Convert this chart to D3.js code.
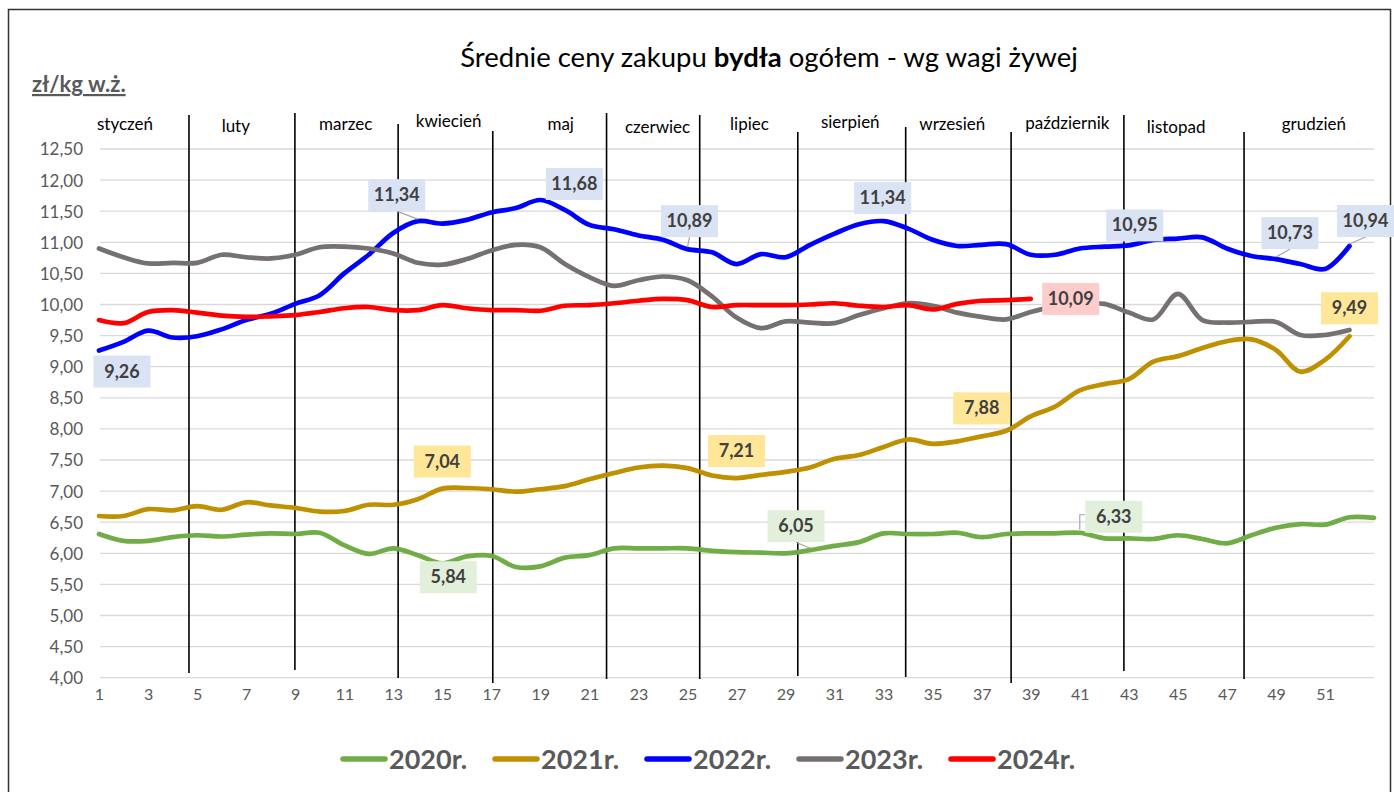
<!DOCTYPE html>
<html>
<head>
<meta charset="utf-8">
<script src="https://cdnjs.cloudflare.com/ajax/libs/d3/7.8.5/d3.min.js"></script>
<style>
  body { margin: 0; background: #fff; }
  text { font-family: Lato, "Open Sans", sans-serif; }
</style>
</head>
<body>
<div id="chart"></div>
<script>
// weekly prices, zl/kg live weight
var ceny2020 = [6.31, 6.20, 6.20, 6.26, 6.29, 6.27, 6.30, 6.32, 6.31, 6.33, 6.13, 5.99, 6.08, 5.97, 5.84, 5.95, 5.96, 5.78, 5.79, 5.93,
	5.97, 6.08, 6.08, 6.08, 6.08, 6.04, 6.02, 6.01, 6.00, 6.05, 6.12, 6.18, 6.32, 6.31, 6.31, 6.33, 6.26, 6.31, 6.32, 6.32,
	6.33, 6.24, 6.24, 6.23, 6.29, 6.23, 6.16, 6.29, 6.41, 6.47, 6.46, 6.58, 6.57];
var ceny2021 = [6.60, 6.60, 6.71, 6.69, 6.76, 6.70, 6.82, 6.77, 6.73, 6.67, 6.68, 6.78, 6.78, 6.87, 7.04, 7.05, 7.03, 6.99, 7.03, 7.08,
	7.19, 7.29, 7.38, 7.41, 7.37, 7.25, 7.21, 7.26, 7.31, 7.38, 7.52, 7.58, 7.71, 7.83, 7.76, 7.80, 7.88, 7.97, 8.20, 8.36,
	8.62, 8.72, 8.80, 9.08, 9.17, 9.30, 9.41, 9.44, 9.27, 8.92, 9.11, 9.49];
var ceny2022 = [9.26, 9.40, 9.58, 9.47, 9.49, 9.60, 9.75, 9.85, 10.01, 10.15, 10.50, 10.80, 11.15, 11.34, 11.30, 11.36, 11.48, 11.55, 11.68, 11.52,
	11.28, 11.21, 11.11, 11.04, 10.89, 10.84, 10.65, 10.81, 10.76, 10.96, 11.14, 11.29, 11.34, 11.22, 11.04, 10.94, 10.96, 10.97, 10.80, 10.80,
	10.90, 10.93, 10.95, 11.04, 11.06, 11.08, 10.90, 10.78, 10.73, 10.65, 10.57, 10.94];
var ceny2023 = [10.90, 10.76, 10.66, 10.67, 10.67, 10.80, 10.76, 10.74, 10.80, 10.92, 10.93, 10.90, 10.82, 10.67, 10.64, 10.73, 10.87, 10.96, 10.92, 10.65,
	10.44, 10.30, 10.39, 10.45, 10.39, 10.13, 9.79, 9.62, 9.73, 9.71, 9.70, 9.83, 9.94, 10.02, 9.98, 9.87, 9.80, 9.76, 9.88, 9.97,
	10.01, 10.01, 9.87, 9.76, 10.17, 9.75, 9.71, 9.72, 9.72, 9.51, 9.51, 9.59];
var ceny2024 = [9.75, 9.70, 9.88, 9.91, 9.87, 9.82, 9.80, 9.81, 9.83, 9.88, 9.94, 9.96, 9.91, 9.91, 9.99, 9.94, 9.91, 9.91, 9.90, 9.98,
	9.99, 10.02, 10.06, 10.09, 10.07, 9.96, 9.99, 9.99, 9.99, 10.00, 10.02, 9.98, 9.96, 9.99, 9.92, 10.01, 10.06, 10.07, 10.09];

var seriesNames = ["2020r.", "2021r.", "2022r.", "2023r.", "2024r."];
var seriesColors = ["#70ad47", "#bf9000", "#0000ff", "#767171", "#ff0000"];
var allSeries = [ceny2020, ceny2021, ceny2022, ceny2023, ceny2024];

var weekTicks = d3.range(1, 52, 2);           // 1,3,...,51
var yTicks = d3.range(4, 12.51, 0.5);

var months = ["styczeń", "luty", "marzec", "kwiecień", "maj", "czerwiec", "lipiec", "sierpień", "wrzesień", "październik", "listopad", "grudzień"];
var monthCenters = [2.06, 6.58, 11.06, 15.26, 19.83, 23.78, 27.53, 31.64, 35.8, 40.49, 44.93, 50.55];   // in weeks
var monthBreaks = [4.67, 8.99, 13.2, 17.06, 21.7, 25.5, 29.5, 33.9, 38.2, 42.8, 47.7];                // in weeks

// callouts: series index, week
var callouts = [[2, 1], [2, 14], [2, 19], [2, 25], [2, 33], [2, 43], [2, 49], [2, 52],
	[4, 39], [1, 15], [1, 27], [1, 37], [1, 52], [0, 15], [0, 30], [0, 41]];

// layout bits (hand-placed in the original, kept apart from the data)
var monthLabelY = [130, 132, 130, 127, 130, 133, 130, 128, 130, 129, 133, 130];
var breakTop = [115, 113, 124, 131, 113, 115, 132, 127, 132, 115, 132];
var breakBottom = [673, 670, 678, 683, 679, 679, 676, 677, 683, 671, 679];
var calloutOffset = [[23, 21, 0], [-21, -26, 1], [34, -16, 0], [2, -28, 1], [-1, -23, 0], [6, -20, 0], [14, -26, 1], [16, -25, 1],
	[40, 0, 0], [0, -27, 0], [0, -27, 0], [0, -28, 0], [0, -28, 0], [6, 14, 0], [-14, -24, 1], [34, -16, 2]];
var boxColors = ["#e2efda", "#ffe699", "#dae3f3", "#dae3f3", "#ffcccc"];

var width = 1394, height = 792;
var comma = function(v) { return d3.format(".2f")(v).replace(".", ","); };

var svg = d3.select("#chart").append("svg")
	.attr("width", width)
	.attr("height", height);

svg.append("rect")
	.attr("x", 8.5).attr("y", 9.5)
	.attr("width", 1382).attr("height", 800)
	.style("fill", "#fff")
	.style("stroke", "#333")
	.style("stroke-width", 1.5);

var x = d3.scaleLinear().domain([1, 53]).range([99, 1374]);
var y = d3.scaleLinear().domain([4, 12.5]).range([677.7, 149]);

// gridlines
svg.selectAll(".grid")
	.data(yTicks)
	.enter()
	.append("line")
		.attr("class", "grid")
		.attr("x1", 100).attr("x2", 1374)
		.attr("y1", function(d) { return y(d); })
		.attr("y2", function(d) { return y(d); })
		.style("stroke", "#d9d9d9")
		.style("stroke-width", 1.3);

// y axis
var yAxis = d3.axisLeft(y).tickValues(yTicks).tickSize(0).tickPadding(0).tickFormat(comma);
svg.append("g")
	.attr("transform", "translate(83,0)")
	.call(yAxis)
	.call(function(g) { g.select(".domain").remove(); })
	.selectAll("text")
		.attr("dy", "0.35em")
		.style("font-family", "Lato, sans-serif")
		.style("font-size", "17px")
		.style("fill", "#595959");

// x axis
var xAxis = d3.axisBottom(x).tickValues(weekTicks).tickSize(0).tickPadding(0).tickFormat(d3.format("d"));
svg.append("g")
	.attr("transform", "translate(0,689)")
	.call(xAxis)
	.call(function(g) { g.select(".domain").remove(); })
	.selectAll("text")
		.attr("dy", "0.71em")
		.style("font-family", "Lato, sans-serif")
		.style("font-size", "16px")
		.style("fill", "#595959");

// month separators
svg.selectAll(".monthBreak")
	.data(monthBreaks)
	.enter()
	.append("line")
		.attr("class", "monthBreak")
		.attr("x1", function(d) { return x(d); })
		.attr("x2", function(d) { return x(d); })
		.attr("y1", function(d, i) { return breakTop[i]; })
		.attr("y2", function(d, i) { return breakBottom[i]; })
		.style("stroke", "#000")
		.style("stroke-width", 1.6);

svg.selectAll(".monthLabel")
	.data(months)
	.enter()
	.append("text")
		.attr("class", "monthLabel")
		.attr("x", function(d, i) { return x(monthCenters[i]); })
		.attr("y", function(d, i) { return monthLabelY[i]; })
		.style("text-anchor", "middle")
		.style("font-size", "17px")
		.style("fill", "#000")
		.text(function(d) { return d; });

// lines
var line = d3.line()
	.x(function(d, i) { return x(i + 1); })
	.y(function(d) { return y(d); })
	.curve(d3.curveCatmullRom.alpha(0.5));

svg.selectAll(".seria")
	.data(allSeries)
	.enter()
	.append("path")
		.attr("class", "seria")
		.attr("d", function(d) { return line(d); })
		.style("fill", "none")
		.style("stroke", function(d, i) { return seriesColors[i]; })
		.style("stroke-width", 4.7)
		.style("stroke-linejoin", "round")
		.style("stroke-linecap", "round");

// callouts
var bw = 57, bh = 32;
callouts.forEach(function(c, i) {
	var s = c[0], w = c[1];
	var v = allSeries[s][w - 1];
	var px = x(w), py = y(v);
	var cx = px + calloutOffset[i][0], cy = py + calloutOffset[i][1];
	var g = svg.append("g");
	if (calloutOffset[i][2] == 1) {
		var ex = cx, ey = cy + (cy < py ? bh / 2 : -bh / 2);
		if (Math.abs(cx - px) > bw / 2 - 4) ex = cx + (px > cx ? 1 : -1) * (bw / 2 - 14);
		g.append("line")
			.attr("x1", ex).attr("y1", ey)
			.attr("x2", px).attr("y2", py - 2)
			.style("stroke", "#a6a6a6").style("stroke-width", 1.2);
	} else if (calloutOffset[i][2] == 2) {
		g.append("polyline")
			.attr("points", [[cx - bw / 2, cy - 2], [px, cy - 2], [px, py - 3]].join(" "))
			.style("fill", "none")
			.style("stroke", "#a6a6a6").style("stroke-width", 1.2);
	}
	g.append("rect")
		.attr("x", cx - bw / 2).attr("y", cy - bh / 2)
		.attr("width", bw).attr("height", bh)
		.style("fill", boxColors[s]);
	g.append("text")
		.attr("x", cx).attr("y", cy + 6)
		.style("text-anchor", "middle")
		.style("font-size", "18px")
		.style("font-weight", 700)
		.style("fill", "#404040")
		.text(comma(v));
});

// title
var title = svg.append("text")
	.attr("x", 769).attr("y", 67)
	.style("text-anchor", "middle")
	.style("font-size", "27.5px")
	.style("fill", "#000");
title.append("tspan").text("Średnie ceny zakupu ");
title.append("tspan").style("font-weight", 700).text("bydła");
title.append("tspan").text(" ogółem - wg wagi żywej");

svg.append("text")
	.attr("x", 32).attr("y", 92)
	.style("font-size", "22px")
	.style("font-weight", 700)
	.style("fill", "#595959")
	.style("text-decoration", "underline")
	.text("zł/kg w.ż.");

// legend
var legendX = [341, 493, 645, 797, 949];
var legend = svg.selectAll(".legend")
	.data(seriesNames)
	.enter()
	.append("g")
		.attr("class", "legend")
		.attr("transform", function(d, i) { return "translate(" + legendX[i] + ",759)"; });
legend.append("line")
	.attr("x1", 2).attr("x2", 44)
	.style("stroke", function(d, i) { return seriesColors[i]; })
	.style("stroke-width", 5.5)
	.style("stroke-linecap", "round");
legend.append("text")
	.attr("x", 48).attr("y", 10)
	.style("font-size", "27px")
	.style("font-weight", 700)
	.style("fill", "#595959")
	.text(function(d) { return d; });
</script>
</body>
</html>
